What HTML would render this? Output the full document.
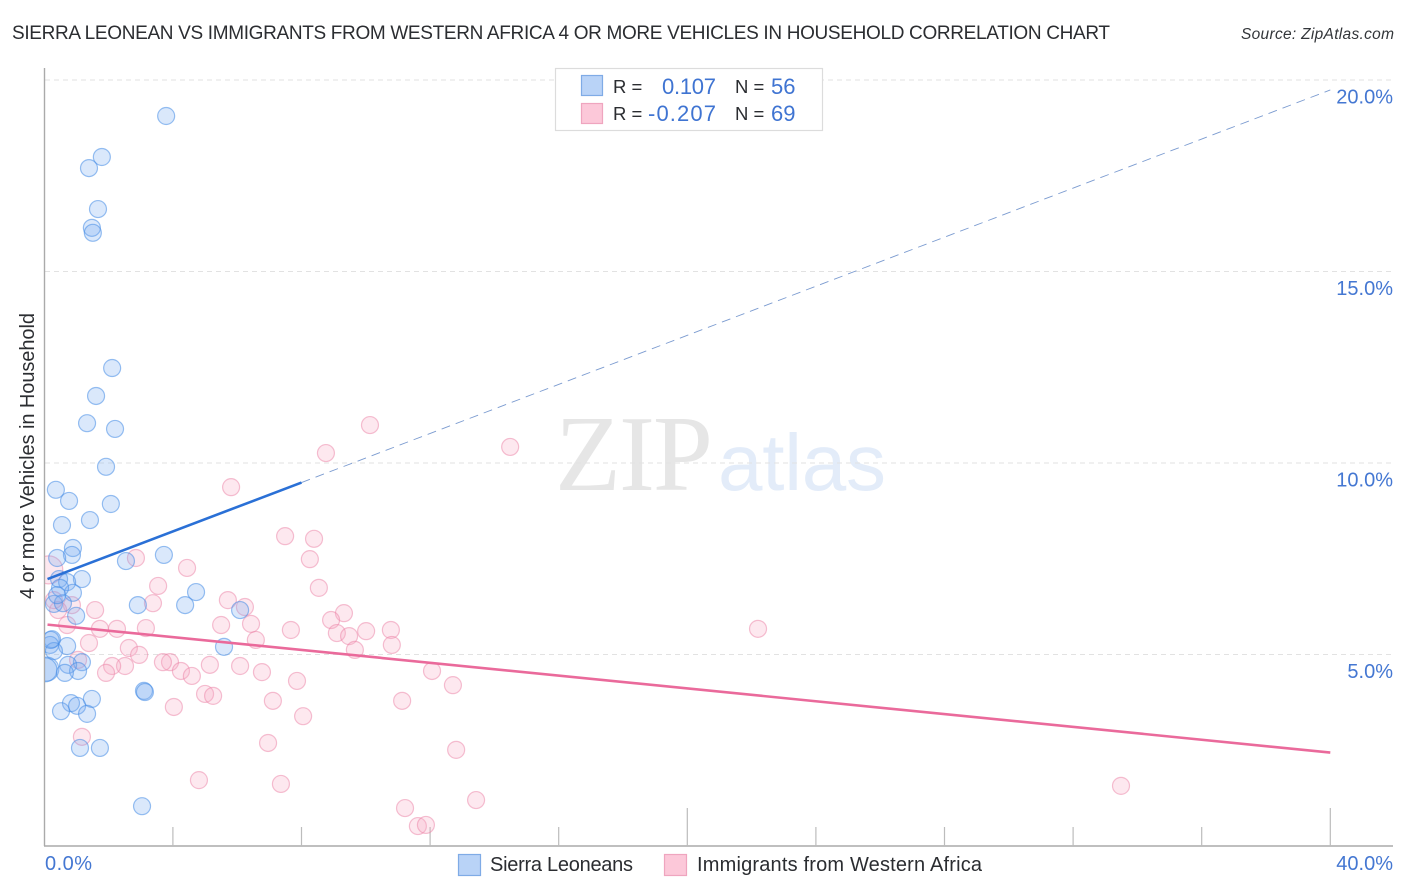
<!DOCTYPE html>
<html>
<head>
<meta charset="utf-8">
<title>Sierra Leonean vs Immigrants from Western Africa correlation chart</title>
<style>
html,body{margin:0;padding:0;background:#fff;}
svg{display:block;}
text{font-family:"Liberation Sans",sans-serif;}
.tick-label{font-size:20px;fill:#4477d2;}
.dark{fill:#2b2d31;}
.stat{font-size:22px;fill:#3f74d2;}
.lab{font-size:20px;fill:#2b2d31;}
.eq{font-size:18.5px;fill:#2b2d31;}
</style>
</head>
<body>
<svg id="chart" width="1406" height="892" viewBox="0 0 1406 892" xmlns="http://www.w3.org/2000/svg">
  <defs><clipPath id="plot-clip"><rect x="45" y="60" width="1350" height="786"/></clipPath></defs>
  <text class="dark" x="12" y="39" font-size="19" textLength="1098">SIERRA LEONEAN VS IMMIGRANTS FROM WESTERN AFRICA 4 OR MORE VEHICLES IN HOUSEHOLD CORRELATION CHART</text>
  <text x="1241" y="39" font-size="15.5" font-style="italic" textLength="153" fill="#33363a">Source: ZipAtlas.com</text>
  <text x="555" y="490" font-size="108" textLength="158" style="font-family:'Liberation Serif',serif" fill="#e6e6e6">ZIP</text>
  <text x="718" y="490" font-size="80" textLength="168" fill="#e3ecf9">atlas</text>
  <g id="grid"></g>
  <g id="axes"></g>
  <g id="points" clip-path="url(#plot-clip)"></g>
  <g id="trends"></g>
  <text class="dark" transform="translate(34,456) rotate(-90)" font-size="20" text-anchor="middle" textLength="286">4 or more Vehicles in Household</text>
  <g>
    <rect x="555.5" y="68.5" width="267" height="62" fill="#fff" stroke="#dcdcdc" stroke-width="1.2"/>
    <rect x="581.5" y="75.5" width="21" height="20" fill="#b9d3f7" stroke="#7fabe6" stroke-width="1.2"/>
    <rect x="581.5" y="103.5" width="21" height="20" fill="#fcc8d9" stroke="#efa5bf" stroke-width="1.2"/>
    <text class="eq" x="613" y="93">R =</text>
    <text class="stat" x="662" y="94" textLength="54">0.107</text>
    <text class="eq" x="735" y="93">N =</text>
    <text class="stat" x="771" y="94">56</text>
    <text class="eq" x="613" y="120">R =</text>
    <text class="stat" x="648" y="121" textLength="68">-0.207</text>
    <text class="eq" x="735" y="120">N =</text>
    <text class="stat" x="771" y="121">69</text>
  </g>
  <g>
    <rect x="458.5" y="854.5" width="22" height="21" fill="#b9d3f7" stroke="#7fabe6" stroke-width="1.2"/>
    <text class="lab" x="490" y="871" textLength="143">Sierra Leoneans</text>
    <rect x="664.5" y="854.5" width="22" height="21" fill="#fcc8d9" stroke="#efa5bf" stroke-width="1.2"/>
    <text class="lab" x="697" y="871" textLength="285">Immigrants from Western Africa</text>
  </g>
</svg>
<script>
const yTicks = [5, 10, 15, 20];
const yTickLabels = ["5.0%", "10.0%", "15.0%", "20.0%"];
const xTicks = [4, 8, 12, 16, 20, 24, 28, 32, 36, 40];
const xMajorTicks = [20, 40];
const xEndLabels = ["0.0%", "40.0%"];

const blueX = [3.79,1.79,1.39,1.67,1.48,1.51,2.11,1.61,1.33,2.20,1.92,2.07,0.36,0.77,1.42,0.55,0.89,0.86,0.40,3.72,2.54,1.17,0.46,0.71,0.89,0.49,4.72,4.38,2.91,6.09,0.30,0.58,0.99,5.59,0.24,0.18,0.71,0.30,0.08,0.02,1.17,0.74,1.05,0.64,1.48,0.83,1.02,0.52,1.33,3.10,3.13,1.11,1.73,3.04,0.40,0.20];
const blueY = [19.06,17.99,17.70,16.63,16.14,16.01,12.48,11.75,11.04,10.89,9.90,8.93,9.30,9.01,8.51,8.38,7.78,7.60,7.52,7.60,7.44,6.97,6.97,6.89,6.61,6.74,6.63,6.29,6.29,6.16,6.32,6.34,6.01,5.20,5.40,5.25,5.22,5.09,4.62,4.60,4.80,4.73,4.57,4.52,3.84,3.73,3.66,3.52,3.45,4.05,4.02,2.56,2.56,1.04,6.55,5.38];
const pinkX = [10.13,14.49,8.76,5.81,7.49,8.39,8.26,2.85,4.44,3.54,8.54,5.71,6.24,3.38,9.32,8.92,5.50,6.43,7.67,3.16,2.26,1.73,10.01,10.78,9.10,9.48,6.58,10.81,9.66,1.39,2.63,2.95,22.20,1.58,0.86,0.71,0.43,0.30,0.14,12.06,12.71,6.77,6.09,5.15,3.91,3.69,4.25,4.59,2.51,2.11,1.92,1.05,7.86,5.00,5.25,4.03,7.11,8.05,11.13,6.96,1.17,12.81,4.81,7.36,33.49,13.43,11.22,11.62,11.87];
const pinkY = [10.99,10.42,10.26,9.37,8.09,8.02,7.49,7.52,7.26,6.79,6.74,6.42,6.24,6.34,6.08,5.90,5.77,5.80,5.64,5.69,5.67,5.67,5.61,5.64,5.56,5.48,5.38,5.25,5.12,5.30,5.17,4.99,5.67,6.16,6.29,5.77,6.16,6.42,7.21,4.57,4.20,4.54,4.70,4.73,4.80,4.80,4.57,4.44,4.70,4.70,4.52,4.86,4.31,3.97,3.92,3.63,3.79,3.39,3.79,2.69,2.85,2.51,1.72,1.62,1.57,1.20,0.99,0.52,0.55];

const blueTrendX = [0.1, 8, 40];
const blueTrendY = [6.97, 9.49, 19.74];
const pinkTrendX = [0.1, 40];
const pinkTrendY = [5.78, 2.44];

const NS = "http://www.w3.org/2000/svg";
const xScale = v => 44.3 + v * 32.15;
const yScale = v => 846 - v * 38.3;
const blueRadius = v => v < 0.15 ? 12 : 8.5;
const pinkRadius = v => v < 0.15 ? 14 : 8.5;

function mk(parent, tag, props) {
  const el = document.createElementNS(NS, tag);
  for (const k in props) el.setAttribute(k, props[k]);
  parent.appendChild(el);
  return el;
}

const grid = document.getElementById("grid");
const axes = document.getElementById("axes");
const points = document.getElementById("points");
const trends = document.getElementById("trends");

yTicks.forEach(function (t, i) {
  const line = mk(grid, "line", {x1: 45, x2: 1393, y1: yScale(t), y2: yScale(t), stroke: "#e2e2e2", "stroke-width": 1, "stroke-dasharray": "5 4"});
  
  
  const lab = mk(axes, "text", {x: 1393, y: yScale(t) + 23.5, "text-anchor": "end", class: "tick-label"});
  lab.textContent = yTickLabels[i];
  
  
});

const yAxisLine = mk(axes, "line", {x1: 44.5, x2: 44.5, y1: 68, y2: 846, stroke: "#aaaaaa", "stroke-width": 1.4});


const xAxisLine = mk(axes, "line", {x1: 44, x2: 1393, y1: 846, y2: 846, stroke: "#aaaaaa", "stroke-width": 1.4});



xTicks.forEach(function (t) {
  const top = xMajorTicks.includes(t) ? 808 : 827;
  const tick = mk(axes, "line", {x1: xScale(t), x2: xScale(t), y1: top, y2: 846, stroke: "#bcbcbc", "stroke-width": 1.2});
  
  
});

const xLabelLeft = mk(axes, "text", {x: 45, y: 870, class: "tick-label", textLength: 47});
xLabelLeft.textContent = xEndLabels[0];


const xLabelRight = mk(axes, "text", {x: 1393, y: 870, "text-anchor": "end", class: "tick-label"});
xLabelRight.textContent = xEndLabels[1];



pinkX.forEach(function (v, i) {
  const c = mk(points, "circle", {cx: xScale(v), cy: yScale(pinkY[i]), r: pinkRadius(v), fill: "rgba(247,170,195,0.27)", stroke: "rgba(236,130,165,0.5)", "stroke-width": 1.2});
  
  
});
blueX.forEach(function (v, i) {
  const c = mk(points, "circle", {cx: xScale(v), cy: yScale(blueY[i]), r: blueRadius(v), fill: "rgba(120,170,240,0.27)", stroke: "rgba(70,140,230,0.55)", "stroke-width": 1.2});
  
  
});

const blueDash = mk(trends, "line", {x1: xScale(blueTrendX[1]), y1: yScale(blueTrendY[1]), x2: xScale(blueTrendX[2]), y2: yScale(blueTrendY[2]), stroke: "#7b9bd0", "stroke-width": 0.9, "stroke-dasharray": "9 6"});


const blueSolid = mk(trends, "line", {x1: xScale(blueTrendX[0]), y1: yScale(blueTrendY[0]), x2: xScale(blueTrendX[1]), y2: yScale(blueTrendY[1]), stroke: "#2a70d6", "stroke-width": 2.6});


const pinkSolid = mk(trends, "line", {x1: xScale(pinkTrendX[0]), y1: yScale(pinkTrendY[0]), x2: xScale(pinkTrendX[1]), y2: yScale(pinkTrendY[1]), stroke: "#ea6a9b", "stroke-width": 2.6});


</script>
</body>
</html>
